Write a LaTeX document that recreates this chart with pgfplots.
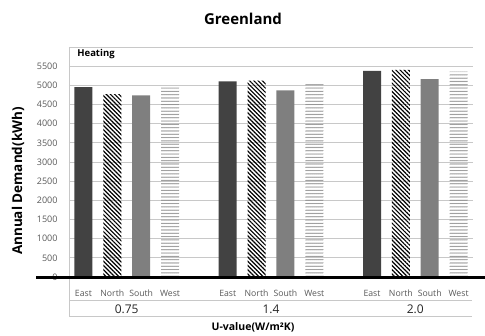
\documentclass[border=0pt]{standalone}
\usepackage{fontspec}
\setmainfont{Open Sans}
\usepackage{pgfplots}
\pgfplotsset{compat=1.18}
\usetikzlibrary{patterns.meta}
\definecolor{eastc}{HTML}{424242}
\definecolor{southc}{HTML}{7F7F7F}
\definecolor{gridc}{HTML}{C8C8C8}
\definecolor{labc}{HTML}{595959}
\definecolor{wavec}{HTML}{8C8C8C}
\tikzdeclarepattern{
  name=wavy,
  type=uncolored,
  bounding box={(0pt,-0.5pt) and (2pt,1.3pt)},
  tile size={(2pt,3.3pt)},
  code={
    \pgfsetlinewidth{0.55pt}
    \pgfpathmoveto{\pgfpoint{0pt}{0pt}}
    \pgfpathlineto{\pgfpoint{1pt}{0.8pt}}
    \pgfpathlineto{\pgfpoint{2pt}{0pt}}
    \pgfusepath{stroke}
  }
}
\begin{document}
\begin{tikzpicture}
\path[use as bounding box] (0pt,0pt) rectangle (485pt,336pt);
\begin{axis}[
  at={(69pt,59pt)}, anchor=south west,
  scale only axis, width=404pt, height=230pt,
  ymin=0, ymax=6000, xmin=-0.5, xmax=13.5,
  axis line style={draw=none},
  ybar, bar width=18pt,
  ytick={0,500,...,6000},
  yticklabels={0,500,1000,1500,2000,2500,3000,3500,4000,4500,5000,5500,},
  xtick={0,1,2,3,5,6,7,8,10,11,12,13},
  xticklabels={East,North,South,West,East,North,South,West,East,North,South,West},
  major tick length=0pt,
  ymajorgrids, grid style={gridc, line width=0.9pt},
  /pgf/number format/assume math mode=true,
  yticklabel style={font=\fontsize{9}{10}\selectfont, text=labc, xshift=-8pt},
  xticklabel style={font=\fontsize{8.7}{9}\selectfont, text=labc, yshift=-7pt, text height=1.6ex, text depth=0.3ex},
  clip=false,
]
\addplot[bar shift=0pt, fill=eastc, draw=none] coordinates {(0,4950) (5,5100) (10,5380)};
\addplot[bar shift=0pt, draw=none, pattern={Lines[angle=-45,distance=3pt,line width=1.2pt]}, pattern color=black] coordinates {(1,4770) (6,5125) (11,5405)};
\addplot[bar shift=0pt, fill=southc, draw=none] coordinates {(2,4735) (7,4870) (12,5160)};
\addplot[bar shift=0pt, draw=none, pattern=wavy, pattern color=wavec] coordinates {(3,4940) (8,5075) (13,5360)};
\node[font=\fontsize{12}{13}\selectfont, text=black!85] at (axis cs:1.5,0) [yshift=-32pt] {0.75};
\node[font=\fontsize{12}{13}\selectfont, text=black!85] at (axis cs:6.5,0) [yshift=-32pt] {1.4};
\node[font=\fontsize{12}{13}\selectfont, text=black!85] at (axis cs:11.5,0) [yshift=-32pt] {2.0};
\node[anchor=north west, font=\bfseries\fontsize{9.5}{10}\selectfont] at (axis description cs:0.012,1.005) {Heating};
\end{axis}
\draw[gridc, line width=0.9pt] (69pt,289pt) -- (69pt,20pt);
\draw[gridc, line width=0.9pt] (69pt,36pt) -- (472pt,36pt);
\draw[gridc, line width=0.9pt] (69pt,20pt) -- (472pt,20pt);
\draw[black, line width=3pt] (36pt,58pt) -- (485pt,58pt);
\node[font=\bfseries\fontsize{15}{16}\selectfont] at (243pt,317pt) {Greenland};
\node[font=\bfseries\fontsize{13.5}{15}\selectfont, rotate=90] at (18pt,155pt) {Annual Demand(kWh)};
\node[font=\bfseries\fontsize{10.5}{11}\selectfont] at (253pt,9pt) {U-value(W/m²K)};
\end{tikzpicture}
\end{document}
